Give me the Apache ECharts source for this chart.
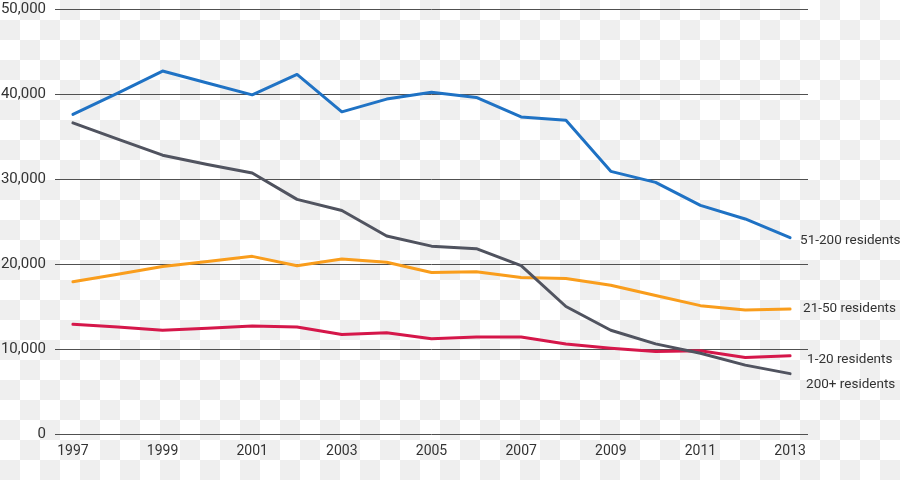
<!DOCTYPE html>
<html>
<head>
<meta charset="utf-8">
<script src="https://cdn.jsdelivr.net/npm/echarts@6/dist/echarts.min.js"></script>
<style>
html,body{margin:0;padding:0;}
body{width:900px;height:480px;background:repeating-conic-gradient(#efefef 0 25%, #ffffff 0 50%) 0 0/40px 40px;}
#chart{width:900px;height:480px;}
</style>
</head>
<body>
<div id="chart"></div>
<script>
const years = [1997,1998,1999,2000,2001,2002,2003,2004,2005,2006,2007,2008,2009,2010,2011,2012,2013];
const yearLabels = [1997,1999,2001,2003,2005,2007,2009,2011,2013];
const yTicks = [0,10000,20000,30000,40000,50000];

const s51_200 = [37600,40100,42700,41300,39900,42300,37900,39400,40200,39600,37300,36900,30900,29600,26900,25300,23100];
const s200plus = [36600,34700,32800,31700,30700,27600,26300,23300,22100,21800,19800,15000,12200,10600,9500,8100,7100];
const s21_50 = [17900,18800,19700,20300,20900,19800,20600,20200,19000,19100,18400,18300,17500,16300,15100,14600,14700];
const s1_20 = [12900,12600,12200,12450,12700,12600,11700,11900,11200,11400,11400,10600,10100,9700,9800,9000,9200];

const seriesNames = ['51-200 residents','21-50 residents','1-20 residents','200+ residents'];
const seriesColors = ['#1f72c4','#f99d1c','#d5174a','#50535f'];

const FONT = 'Roboto, "Liberation Sans", sans-serif';

function pairs(arr){ return years.map((y,i)=>[y,arr[i]]); }

const chart = echarts.init(document.getElementById('chart'), null, {renderer:'canvas'});

function mk(name, data, color, offset){
  return {
    name: name,
    type: 'line',
    data: pairs(data),
    showSymbol: false,
    symbol: 'none',
    smooth: false,
    lineStyle: {color: color, width: 3, cap:'round', join:'round'},
    itemStyle: {color: color},
    emphasis: {disabled: true},
    endLabel: {
      show: true,
      formatter: name,
      color: '#333333',
      fontFamily: FONT,
      fontSize: 13.5,
      distance: 0,
      offset: offset
    },
    z: 3
  };
}

chart.setOption({
  backgroundColor: 'transparent',
  animation: false,
  grid: {left: 55, right: 92, top: 9, bottom: 46, containLabel: false, outerBoundsMode: 'none'},
  xAxis: {
    type: 'value',
    min: 1996.6,
    max: 2013.4,
    axisLine: {show: false},
    axisTick: {show: false},
    splitLine: {show: false},
    axisLabel: {
      customValues: yearLabels,
      formatter: v => String(v),
      color: '#333333',
      fontFamily: FONT,
      fontSize: 14,
      margin: 10
    }
  },
  yAxis: {
    type: 'value',
    min: yTicks[0],
    max: yTicks[yTicks.length-1],
    interval: 10000,
    axisLine: {show: false},
    axisTick: {show: false},
    splitLine: {show: true, lineStyle: {color: '#505050', width: 1}},
    axisLabel: {
      formatter: v => v.toLocaleString('en-US'),
      color: '#333333',
      fontFamily: FONT,
      fontSize: 15,
      margin: 9
    }
  },
  series: [
    mk(seriesNames[0], s51_200, seriesColors[0], [10, 3]),
    mk(seriesNames[1], s21_50, seriesColors[1], [13, 0]),
    mk(seriesNames[2], s1_20, seriesColors[2], [17, 4]),
    mk(seriesNames[3], s200plus, seriesColors[3], [16, 11])
  ]
});
</script>
</body>
</html>
